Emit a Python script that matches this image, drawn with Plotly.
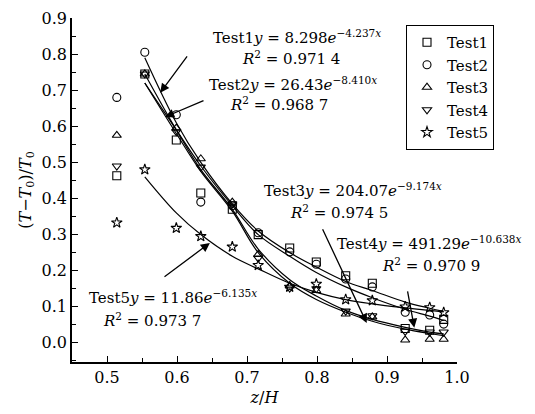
import plotly.graph_objects as go

# ---- data ----
z_h = [0.514, 0.554, 0.599, 0.634, 0.679, 0.716, 0.761, 0.799, 0.841, 0.879, 0.926, 0.961, 0.981]
test1 = [0.463, 0.745, 0.562, 0.415, 0.37, 0.30, 0.263, 0.224, 0.186, 0.165, 0.04, 0.035, 0.065]
test2 = [0.68, 0.805, 0.632, 0.39, 0.38, 0.305, 0.252, 0.218, 0.177, 0.155, 0.085, 0.077, 0.052]
test3 = [0.575, 0.745, 0.595, 0.51, 0.39, 0.245, 0.158, 0.145, 0.08, 0.072, 0.008, 0.01, 0.01]
test4 = [0.49, 0.745, 0.585, 0.487, 0.385, 0.235, 0.152, 0.15, 0.088, 0.075, 0.032, 0.03, 0.03]
test5 = [0.333, 0.48, 0.318, 0.295, 0.266, 0.215, 0.155, 0.163, 0.12, 0.117, 0.1, 0.098, 0.084]

# fitted curves
fit_x = [0.554, 0.599, 0.634, 0.679, 0.716, 0.761, 0.799, 0.841, 0.879, 0.926, 0.961, 0.981]
fit1 = [0.79, 0.61, 0.50, 0.385, 0.31, 0.25, 0.21, 0.17, 0.145, 0.113, 0.096, 0.087]
fit2 = [0.72, 0.59, 0.49, 0.38, 0.30, 0.24, 0.195, 0.155, 0.125, 0.093, 0.074, 0.062]
fit3 = [0.745, 0.59, 0.48, 0.37, 0.26, 0.175, 0.13, 0.09, 0.065, 0.043, 0.03, 0.025]
fit4 = [0.72, 0.58, 0.475, 0.365, 0.25, 0.165, 0.12, 0.085, 0.06, 0.038, 0.026, 0.02]
fit5 = [0.46, 0.36, 0.30, 0.24, 0.205, 0.165, 0.14, 0.12, 0.108, 0.097, 0.09, 0.086]

names = ["Test1", "Test2", "Test3", "Test4", "Test5"]
symbols = ["square-open", "circle-open", "triangle-up-open", "triangle-down-open", "star-open"]
series = [test1, test2, test3, test4, test5]
fits = [fit1, fit2, fit3, fit4, fit5]

# equation labels
eq_text = [
    "Test1<i>y</i> = 8.298<i>e</i><sup>−4.237<i>x</i></sup>",
    "Test2<i>y</i> = 26.43<i>e</i><sup>−8.410<i>x</i></sup>",
    "Test3<i>y</i> = 204.07<i>e</i><sup>−9.174<i>x</i></sup>",
    "Test4<i>y</i> = 491.29<i>e</i><sup>−10.638<i>x</i></sup>",
    "Test5<i>y</i> = 11.86<i>e</i><sup>−6.135<i>x</i></sup>",
]
r2_text = ["0.971 4", "0.968 7", "0.974 5", "0.970 9", "0.973 7"]
eq_pos = [(0.649, 0.848), (0.643, 0.717), (0.721, 0.424), (0.826, 0.277), (0.471, 0.127)]
r2_pos = [(0.69, 0.789), (0.673, 0.662), (0.759, 0.363), (0.89, 0.216), (0.491, 0.064)]
arrow_tail = [(0.616, 0.798), (0.64, 0.673), (0.807, 0.319), (0.929, 0.147), (0.58, 0.18)]
arrow_head = [(0.576, 0.693), (0.583, 0.626), (0.871, 0.055), (0.939, 0.042), (0.647, 0.277)]

FONT = "DejaVu Serif"

fig = go.Figure()
for f in fits:
    fig.add_trace(go.Scatter(x=fit_x, y=f, mode="lines", line=dict(color="black", width=1.2, shape="spline"),
                             showlegend=False, hoverinfo="skip"))
for n, s, y in zip(names, symbols, series):
    fig.add_trace(go.Scatter(x=z_h, y=y, mode="markers", name=n,
                             marker=dict(symbol=s, size=8, color="black", line=dict(width=1.1, color="black"))))

ann = []
for t, (x, y) in zip(eq_text, eq_pos):
    ann.append(dict(x=x, y=y, xref="x", yref="y", text=t, showarrow=False, xanchor="left", yanchor="middle",
                    font=dict(family=FONT, size=15, color="black")))
for t, (x, y) in zip(r2_text, r2_pos):
    ann.append(dict(x=x, y=y, xref="x", yref="y", text="<i>R</i><sup>2</sup> = " + t, showarrow=False,
                    xanchor="left", yanchor="middle", font=dict(family=FONT, size=15, color="black")))
for (tx, ty), (hx, hy) in zip(arrow_tail, arrow_head):
    ann.append(dict(x=hx, y=hy, ax=tx, ay=ty, xref="x", yref="y", axref="x", ayref="y", text="",
                    showarrow=True, arrowhead=2, arrowsize=1.4, arrowwidth=1.3, arrowcolor="black"))

fig.update_layout(
    width=535, height=414,
    margin=dict(l=72, r=78, t=18, b=52, autoexpand=False),
    paper_bgcolor="white", plot_bgcolor="white",
    font=dict(family=FONT, size=16, color="black"),
    annotations=ann,
    legend=dict(x=406 / 535, y=1 - 25 / 414, xref="container", yref="container", xanchor="left", yanchor="top",
                bordercolor="black", borderwidth=1, bgcolor="white",
                font=dict(family=FONT, size=15), itemwidth=30, tracegroupgap=0),
)

fig.update_xaxes(range=[0.45, 1.0], showline=True, linecolor="black", linewidth=1.5, showgrid=False, zeroline=False,
                 ticks="inside", ticklen=6, tickwidth=1.3, tickcolor="black", dtick=0.1, tick0=0.5, tickformat=".1f",
                 minor=dict(ticks="inside", ticklen=4, dtick=0.05, tick0=0.5, tickcolor="black"),
                 title=dict(text="<i>z</i>/<i>H</i>", font=dict(family=FONT, size=16), standoff=6))
fig.update_yaxes(range=[-0.053, 0.9], showline=True, linecolor="black", linewidth=1.5, showgrid=False, zeroline=False,
                 ticks="inside", ticklen=6, tickwidth=1.3, tickcolor="black", dtick=0.1, tick0=0, tickformat=".1f",
                 minor=dict(ticks="inside", ticklen=4, dtick=0.05, tick0=0, tickcolor="black"),
                 title=dict(text="(<i>T</i>−<i>T</i><sub>0</sub>)/<i>T</i><sub>0</sub>", font=dict(family=FONT, size=16),
                            standoff=6))

fig.write_html("out.html")
